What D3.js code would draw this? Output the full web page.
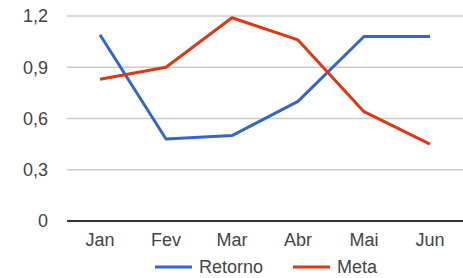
<!DOCTYPE html>
<html>
<head>
<meta charset="utf-8">
<script src="https://cdn.jsdelivr.net/npm/d3@7"></script>
<style>
    body { margin: 0; background: #fff; }
    text { font-family: Arial, "Liberation Sans", sans-serif; fill: #444; }
</style>
</head>
<body>
<svg id="chart"></svg>
<script>
const months  = ["Jan", "Fev", "Mar", "Abr", "Mai", "Jun"];
const retorno = [1.09, 0.48, 0.50, 0.70, 1.08, 1.08];
const meta    = [0.83, 0.90, 1.19, 1.06, 0.64, 0.45];
const yTicks  = [0, 0.3, 0.6, 0.9, 1.2];
const seriesNames = ["Retorno", "Meta"];

let width = 463, height = 278;
let colors = ["#3366cc", "#dc3912"];

let svg = d3.select("#chart").attr("width", width).attr("height", height);

let x = d3.scalePoint().domain(months).range([67, 463]).padding(0.5);
let y = d3.scaleLinear().domain([0, 1.2]).range([221, 16]);

let fmt = v => d3.format(".1f")(v).replace(".", ",").replace(/^0,0$/, "0");

// grid lines
svg.append("g").selectAll("line")
   .data(yTicks.filter(d => d > 0))
   .enter().append("line")
   .attr("x1", 67).attr("x2", 463)
   .attr("y1", d => y(d)).attr("y2", d => y(d))
   .attr("stroke", "#cccccc").attr("stroke-width", 1.5);

// y labels
svg.append("g").selectAll("text")
   .data(yTicks)
   .enter().append("text")
   .attr("x", 48)
   .attr("y", d => y(d))
   .attr("dy", "0.36em")
   .attr("text-anchor", "end")
   .style("font-size", "18px")
   .text(d => d === 0 ? "0" : fmt(d));

// baseline
svg.append("line")
   .attr("x1", 67).attr("x2", 463)
   .attr("y1", y(0)).attr("y2", y(0))
   .attr("stroke", "#333333").attr("stroke-width", 2);

// x labels
svg.append("g").selectAll("text")
   .data(months)
   .enter().append("text")
   .attr("x", d => x(d))
   .attr("y", 246)
   .attr("text-anchor", "middle")
   .style("font-size", "18px")
   .text(d => d);

// lines
let line = d3.line()
             .x((d, i) => x(months[i]))
             .y(d => y(d));

[retorno, meta].forEach(function (s, i) {
    svg.append("path")
       .attr("d", line(s))
       .attr("fill", "none")
       .attr("stroke", colors[i])
       .attr("stroke-width", 3)
       .attr("stroke-linejoin", "round");
});

// legend
let legendX = [155, 293];
seriesNames.forEach(function (name, i) {
    let g = svg.append("g").attr("transform", "translate(" + legendX[i] + ",267)");
    g.append("line")
     .attr("x1", 0).attr("x2", 37)
     .attr("stroke", colors[i]).attr("stroke-width", 3);
    g.append("text")
     .attr("x", 44)
     .attr("dy", "0.36em")
     .style("font-size", "18px")
     .text(name);
});
</script>
</body>
</html>
